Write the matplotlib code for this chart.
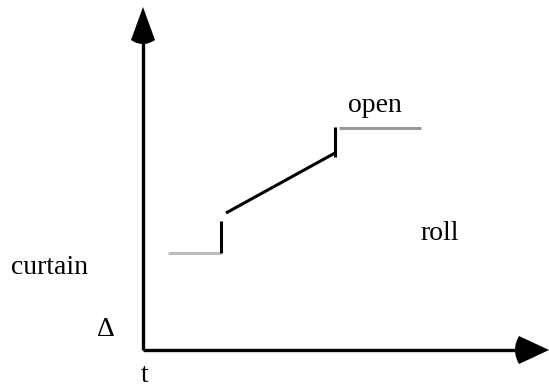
import matplotlib
matplotlib.use("Agg")
import matplotlib.pyplot as plt
import numpy as np
from matplotlib.patches import Polygon

# Schematic data (coordinates relative to axis origin, y up)
low_x = [25, 78]
low_y = [97, 97]
step1_x = [78, 78]
step1_y = [97, 129]
ramp_x = [83, 192]
ramp_y = [137, 197]
step2_x = [192, 192]
step2_y = [193, 223]
high_x = [196, 278]
high_y = [222, 222]

labels = {"open": (232, 245), "roll": (297, 116), "curtain": (-93, 82),
          "Δ": (-37, 20), "t": (2, -25)}

W, H = 549, 387
ox, oy = 143, 350
fig = plt.figure(figsize=(W / 100, H / 100), dpi=100)
ax = fig.add_axes([0, 0, 1, 1])
ax.set_xlim(-ox, W - ox)
ax.set_ylim(-(H - oy), oy)
ax.axis("off")

# axes lines
ax.plot([0, 0], [0, 312], color="black", lw=2.4, solid_capstyle="butt")
ax.plot([0, 378], [0, 0], color="black", lw=2.4, solid_capstyle="butt")

def head(tip, direction, length=33, half=12, bulge=4):
    d = np.array(direction, float)
    n = np.array([-d[1], d[0]])
    tip = np.array(tip, float)
    base = tip - d * length
    pts = [tip]
    for s in np.linspace(-1, 1, 15):
        pts.append(base + n * half * s - d * bulge * (1 - s * s))
    return Polygon(pts, closed=True, color="black", lw=0)

ax.add_patch(head((0, 343), (0, 1)))
ax.add_patch(head((406, 0), (1, 0), length=30, half=14))

ax.plot(low_x, low_y, color="#bdbdbd", lw=2.2, solid_capstyle="butt")
ax.plot(step1_x, step1_y, color="black", lw=2.2, solid_capstyle="butt")
ax.plot(ramp_x, ramp_y, color="black", lw=2.2, solid_capstyle="butt")
ax.plot(step2_x, step2_y, color="black", lw=2.2, solid_capstyle="butt")
ax.plot(high_x, high_y, color="#999999", lw=2.2, solid_capstyle="butt")

for txt, (x, y) in labels.items():
    ax.text(x, y, txt, family="Liberation Serif", fontsize=20,
            ha="center", va="center")

fig.savefig("out.png", dpi=100)
